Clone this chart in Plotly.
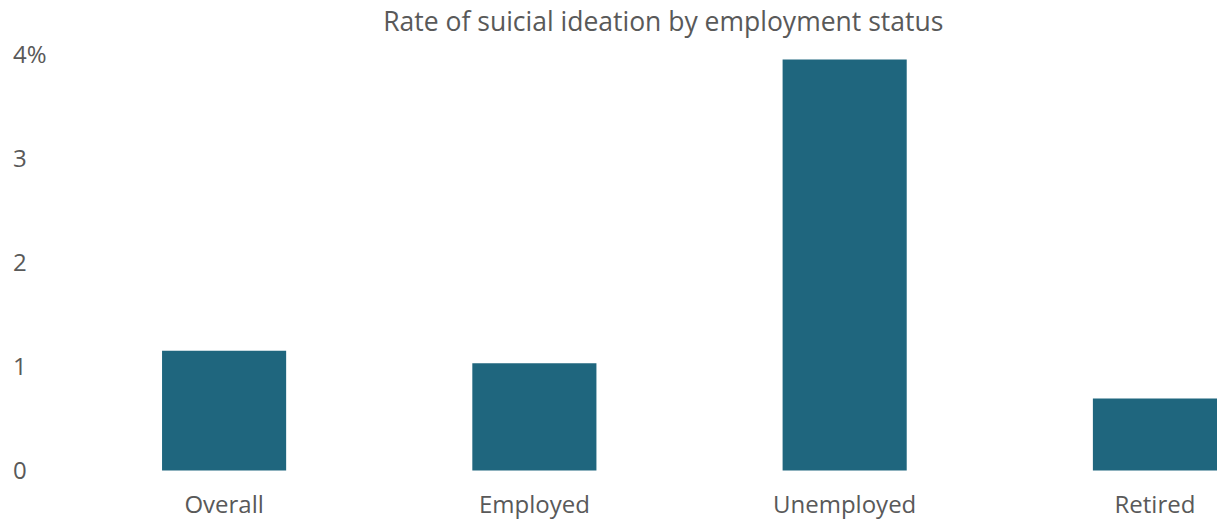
import plotly.graph_objects as go

# Share of respondents reporting suicidal ideation, by employment status (%)
categories = ["Overall", "Employed", "Unemployed", "Retired"]
rates = [1.15, 1.03, 3.95, 0.69]

y_tickvals = [0, 1, 2, 3, 4]
y_ticktext = ["0", "1", "2", "3", "4%"]

BAR_COLOR = "#1f667e"
TEXT_COLOR = "#595959"
FONT = "Open Sans"

fig = go.Figure(
    go.Bar(
        x=list(range(len(categories))),
        y=rates,
        marker=dict(color=BAR_COLOR, line=dict(width=0)),
        hovertemplate="%{customdata}: %{y:.2f}%<extra></extra>",
        customdata=categories,
    )
)

fig.update_layout(
    width=1217,
    height=522,
    paper_bgcolor="white",
    plot_bgcolor="white",
    margin=dict(l=10, r=0, t=23, b=36),
    bargap=0.6,
    showlegend=False,
    font=dict(family=FONT, color=TEXT_COLOR, size=24),
    title=dict(
        text="Rate of suicial ideation by employment status",
        x=0.545,
        xanchor="center",
        y=0.958,
        yanchor="middle",
        font=dict(family=FONT, size=26.5, color=TEXT_COLOR),
    ),
    xaxis=dict(
        tickmode="array",
        tickvals=list(range(len(categories))),
        ticktext=categories,
        range=[-0.69, 3.2],
        showgrid=False,
        zeroline=False,
        showline=False,
        ticks="",
        ticklabelstandoff=2,
        tickfont=dict(size=24, color=TEXT_COLOR),
    ),
    yaxis=dict(
        range=[-0.15, 4.3],
        tickmode="array",
        tickvals=y_tickvals,
        ticktext=y_ticktext,
        showgrid=False,
        zeroline=False,
        showline=False,
        ticks="",
        ticklabelposition="inside",
        tickfont=dict(size=24, color=TEXT_COLOR),
    ),
)

fig.write_html("out.html")
